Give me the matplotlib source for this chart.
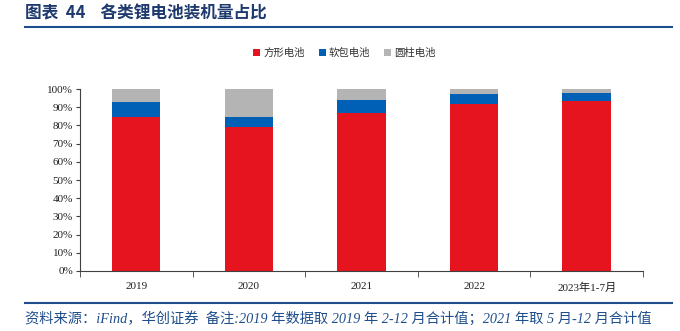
import numpy as np
import matplotlib
matplotlib.use('Agg')
import matplotlib.pyplot as plt
from matplotlib.ticker import PercentFormatter, FixedLocator
from matplotlib.lines import Line2D

plt.rcParams['font.family'] = ['Noto Sans CJK SC', 'DejaVu Sans']

years = ['2019', '2020', '2021', '2022', '2023年1-7月']
prismatic = [84.4, 78.9, 86.7, 92.0, 93.7]
pouch = [8.5, 5.9, 7.5, 5.0, 4.2]
cylinder = [100 - a - b for a, b in zip(prismatic, pouch)]
series_names = ['方形电池', '软包电池', '圆柱电池']
colors = ['#E6141E', '#0060B6', '#B4B4B4']

fig = plt.figure(figsize=(6.8, 3.31), dpi=100)
ax = fig.add_axes([0.1176, 0.1813, 0.828, 0.5497])

x = np.arange(len(years))
bottom = np.zeros(len(years))
for vals, name, c in zip([prismatic, pouch, cylinder], series_names, colors):
    ax.bar(x, vals, 0.43, bottom=bottom, color=c, label=name)
    bottom += np.array(vals)

ax.set_xlim(-0.5, len(years) - 0.5)
ax.set_ylim(0, 100)
ax.set_yticks(np.arange(0, 101, 10))
ax.yaxis.set_major_formatter(PercentFormatter(decimals=0))
ax.set_xticks(x)
ax.set_xticklabels(years)
ax.xaxis.set_minor_locator(FixedLocator(np.arange(-0.5, len(years), 1)))
ax.tick_params(axis='x', which='major', length=0, pad=8)
ax.tick_params(axis='x', which='minor', length=4, direction='out', color='#404040')
ax.tick_params(axis='y', length=3, direction='out', color='#404040', pad=2)
for lab in ax.get_xticklabels() + ax.get_yticklabels():
    lab.set_family(['Liberation Serif', 'Noto Sans CJK SC'])
    lab.set_fontsize(8)
    lab.set_color('#202020')
for s in ['top', 'right']:
    ax.spines[s].set_visible(False)
for s in ['left', 'bottom']:
    ax.spines[s].set_color('#404040')
    ax.spines[s].set_linewidth(0.8)

leg = ax.legend(loc='lower center', bbox_to_anchor=(0.47, 1.12), ncol=3, frameon=False,
                fontsize=7.5, handlelength=0.7, handleheight=0.7, handletextpad=0.3,
                columnspacing=1.3)
for t in leg.get_texts():
    t.set_color('#303030')

fig.text(0.037, 0.958, '图表  44    各类锂电池装机量占比', fontsize=12, fontweight='bold',
         color='#1F3A6E', va='center', ha='left')
fig.add_artist(Line2D([0.037, 0.988], [0.918, 0.918], color='#1F4E8C', lw=1.5))
fig.add_artist(Line2D([0.037, 0.988], [0.086, 0.086], color='#1F4E8C', lw=1.5))
fig.text(0.037, 0.038, '资料来源：iFind，华创证券  备注:2019 年数据取 2019 年 2-12 月合计值；2021 年取 5 月-12 月合计值',
         fontsize=10.3, style='italic', color='#1F4E8C', va='center', ha='left',
         family=['Liberation Serif', 'Noto Sans CJK SC'])

fig.savefig('out.png', dpi=100)
